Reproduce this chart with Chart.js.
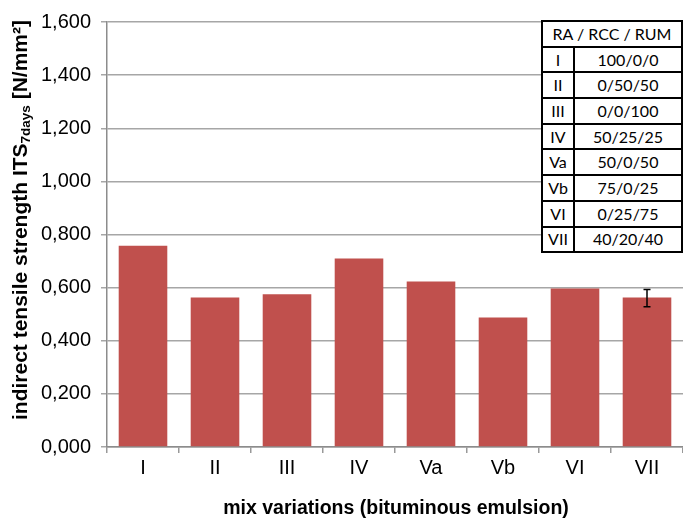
<!DOCTYPE html>
<html>
<head>
<meta charset="utf-8">
<script src="https://cdn.jsdelivr.net/npm/chart.js@4/dist/chart.umd.min.js"></script>
<style>
  html, body { margin: 0; padding: 0; background: #fff; }
  #wrap { position: relative; width: 683px; height: 520px; }
  #c { position: absolute; left: 0; top: 0; }
  #tbl { position: absolute; left: 541px; top: 20px; border-collapse: collapse;
         font-family: "Lato", "Open Sans", sans-serif; font-size: 16px; color: #000; background: #fff; }
  #tbl td { border: 2px solid #000; height: 23.7px; padding: 0; text-align: center; line-height: 20px; }
  #tbl td.k { width: 30px; }
  #tbl td.v { width: 106px; }
</style>
</head>
<body>
<div id="wrap">
  <canvas id="c" width="683" height="520"></canvas>
  <table id="tbl"></table>
</div>
<script>
// ---- data ----
const categories = ["I", "II", "III", "IV", "Va", "Vb", "VI", "VII"];
const itsValues  = [0.758, 0.563, 0.575, 0.710, 0.623, 0.488, 0.597, 0.563];
const errorPlus  = [null, null, null, null, null, null, null, 0.030];
const errorMinus = [null, null, null, null, null, null, null, 0.035];
const yTickLabels = ["0,000", "0,200", "0,400", "0,600", "0,800", "1,000", "1,200", "1,400", "1,600"];
const tableHeader = "RA / RCC / RUM";
const tableMixes  = ["I", "II", "III", "IV", "Va", "Vb", "VI", "VII"];
const tableRatios = ["100/0/0", "0/50/50", "0/0/100", "50/25/25", "50/0/50", "75/0/25", "0/25/75", "40/20/40"];

// ---- table ----
const tbl = document.getElementById('tbl');
let html = '<tr><td colspan="2">' + tableHeader + '</td></tr>';
for (let i = 0; i < tableMixes.length; i++) {
  html += '<tr><td class="k">' + tableMixes[i] + '</td><td class="v">' + tableRatios[i] + '</td></tr>';
}
tbl.innerHTML = html;

const FONT = "'Liberation Sans', Arial, sans-serif";

const titlesPlugin = {
  id: 'titles',
  afterDatasetsDraw(chart) {
    const ctx = chart.ctx;
    const x = chart.scales.x, y = chart.scales.y;
    ctx.save();
    ctx.strokeStyle = '#000';
    ctx.lineWidth = 1.5;
    for (let i = 0; i < itsValues.length; i++) {
      if (errorPlus[i] == null) continue;
      const cx = x.getPixelForValue(i);
      const yt = y.getPixelForValue(itsValues[i] + errorPlus[i]);
      const yb = y.getPixelForValue(itsValues[i] - errorMinus[i]);
      ctx.beginPath();
      ctx.moveTo(cx, yt); ctx.lineTo(cx, yb);
      ctx.moveTo(cx - 3.5, yt); ctx.lineTo(cx + 3.5, yt);
      ctx.moveTo(cx - 3.5, yb); ctx.lineTo(cx + 3.5, yb);
      ctx.stroke();
    }
    ctx.restore();
  },
  afterDraw(chart) {
    const ctx = chart.ctx;
    ctx.save();
    ctx.fillStyle = '#000';
    ctx.font = 'bold 19.5px ' + FONT;
    ctx.textAlign = 'center';
    ctx.textBaseline = 'middle';
    ctx.fillText('mix variations (bituminous emulsion)', 396, 509);
    ctx.restore();
    const p1 = 'indirect tensile strength ITS', p2 = '7days', p3 = ' [N/mm²]';
    const fMain = 'bold 21px ' + FONT, fSub = 'bold 13.5px ' + FONT;
    ctx.save();
    ctx.font = fMain; const w1 = ctx.measureText(p1).width; const w3 = ctx.measureText(p3).width;
    ctx.font = fSub; const w2 = ctx.measureText(p2).width;
    const total = w1 + w2 + w3;
    ctx.translate(21, 220);
    ctx.rotate(-Math.PI / 2);
    ctx.fillStyle = '#000';
    ctx.textBaseline = 'middle';
    ctx.textAlign = 'left';
    let sx = -total / 2;
    ctx.font = fMain; ctx.fillText(p1, sx, 0); sx += w1;
    ctx.font = fSub; ctx.fillText(p2, sx, 5); sx += w2;
    ctx.font = fMain; ctx.fillText(p3, sx, 0);
    ctx.restore();
  }
};

new Chart(document.getElementById('c'), {
  type: 'bar',
  data: {
    labels: categories,
    datasets: [{
      data: itsValues,
      backgroundColor: '#c0504d',
      borderWidth: 0,
      barPercentage: 0.675,
      categoryPercentage: 1.0
    }]
  },
  options: {
    responsive: false,
    animation: false,
    devicePixelRatio: 1,
    layout: { padding: { top: 21, right: 0, left: 0, bottom: 0 } },
    plugins: { legend: { display: false }, tooltip: { enabled: false }, title: { display: false } },
    scales: {
      x: {
        offset: true,
        grid: { display: true, drawOnChartArea: false, drawTicks: true, tickLength: 6, color: '#999', lineWidth: 1.5, offset: true },
        border: { display: true, color: '#8c8c8c', width: 1.5 },
        ticks: { color: '#000', font: { family: FONT, size: 20 }, padding: 3, maxRotation: 0 },
        afterFit(scale) { scale.height = 73; }
      },
      y: {
        min: 0, max: 1.6,
        grid: { color: '#a6a6a6', lineWidth: 1.5, drawTicks: true, tickLength: 6 },
        border: { display: true, color: '#8c8c8c', width: 1.5 },
        ticks: {
          stepSize: 0.2,
          color: '#000',
          font: { family: FONT, size: 20 },
          padding: 10,
          callback: (v, i) => yTickLabels[i]
        },
        afterFit(scale) { scale.width = 107; }
      }
    }
  },
  plugins: [titlesPlugin]
});
</script>
</body>
</html>
